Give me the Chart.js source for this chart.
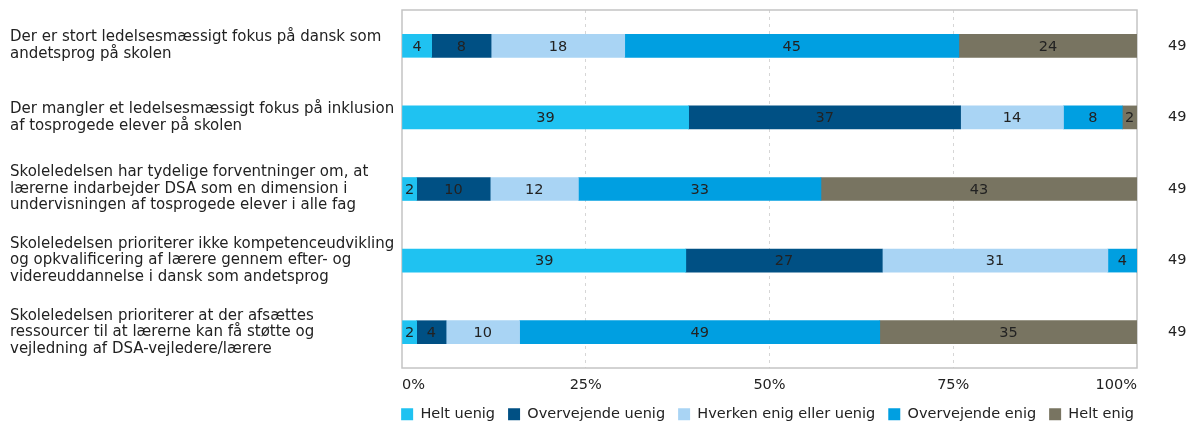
<!DOCTYPE html>
<html>
<head>
<meta charset="utf-8">
<script src="https://cdn.jsdelivr.net/npm/chart.js@4/dist/chart.umd.min.js"></script>
<style>
  html, body { margin: 0; padding: 0; background: #ffffff; }
  #wrap { width: 1190px; height: 421px; position: relative; }
</style>
</head>
<body>
<div id="wrap"><canvas id="c" width="1190" height="421"></canvas></div>
<script>
const categories = [
  ["Der er stort ledelsesmæssigt fokus på dansk som", "andetsprog på skolen"],
  ["Der mangler et ledelsesmæssigt fokus på inklusion", "af tosprogede elever på skolen"],
  ["Skoleledelsen har tydelige forventninger om, at", "lærerne indarbejder DSA som en dimension i", "undervisningen af tosprogede elever i alle fag"],
  ["Skoleledelsen prioriterer ikke kompetenceudvikling", "og opkvalificering af lærere gennem efter- og", "videreuddannelse i dansk som andetsprog"],
  ["Skoleledelsen prioriterer at der afsættes", "ressourcer til at lærerne kan få støtte og", "vejledning af DSA-vejledere/lærere"]
];
const seriesNames = ["Helt uenig", "Overvejende uenig", "Hverken enig eller uenig", "Overvejende enig", "Helt enig"];
const heltUenig        = [4, 39, 2, 39, 2];
const overvejendeUenig = [8, 37, 10, 27, 4];
const hverken          = [18, 14, 12, 31, 10];
const overvejendeEnig  = [45, 8, 33, 4, 49];
const heltEnig         = [24, 2, 43, 0, 35];
const nValues = ["49", "49", "49", "49", "49"];
const xTicks = [0, 25, 50, 75, 100];

const colors = ["#1fc2f1", "#005084", "#a9d4f4", "#009fe1", "#787461"];
const seriesValues = [heltUenig, overvejendeUenig, hverken, overvejendeEnig, heltEnig];

// row totals (rounded percentages do not always sum to 100) -> bars normalised to 100%
const rowTotals = categories.map((_, i) => seriesValues.reduce((s, arr) => s + arr[i], 0));

const FONT = "'DejaVu Sans', Verdana, sans-serif";
const TEXT = "#222222";

const datasets = seriesValues.map((vals, k) => ({
  label: seriesNames[k],
  data: vals.map((v, i) => v / rowTotals[i] * 100),
  raw: vals,
  backgroundColor: colors[k],
  borderWidth: 0,
  barThickness: 23,
  yAxisID: 'y',
  xAxisID: 'x'
}));

const labelPlugin = {
  id: 'segLabels',
  afterDatasetsDraw(chart) {
    const ctx = chart.ctx;
    ctx.save();
    ctx.font = "14.5px " + FONT;
    ctx.fillStyle = TEXT;
    ctx.textAlign = 'center';
    ctx.textBaseline = 'middle';
    chart.data.datasets.forEach((ds, di) => {
      const meta = chart.getDatasetMeta(di);
      meta.data.forEach((bar, i) => {
        const v = ds.raw[i];
        if (!v) return;
        const cx = (bar.x + bar.base) / 2;
        ctx.fillText(String(v), cx, bar.y + 1);
      });
    });
    ctx.restore();
  }
};

const framePlugin = {
  id: 'frame',
  afterLayout(chart) {
    if (chart.legend) {
      chart.legend.left = chart.chartArea.left - 44;
      chart.legend.right = chart.chartArea.right + 40;
    }
  },
  beforeDatasetsDraw(chart) {
    const a = chart.chartArea;
    const ctx = chart.ctx;
    ctx.save();
    ctx.strokeStyle = "#c4c4c4";
    ctx.lineWidth = 1.5;
    ctx.strokeRect(a.left, a.top, a.right - a.left, a.bottom - a.top);
    ctx.restore();
  }
};

function noVPad(scale) { scale.paddingTop = 0; scale.paddingBottom = 0; }

new Chart(document.getElementById('c'), {
  type: 'bar',
  data: { labels: categories, datasets },
  plugins: [labelPlugin, framePlugin],
  options: {
    indexAxis: 'y',
    responsive: false,
    animation: false,
    layout: { padding: { left: 10, top: 10, right: 0, bottom: 0 } },
    scales: {
      x: {
        stacked: true,
        min: 0,
        max: 100,
        afterBuildTicks(scale) { scale.ticks = xTicks.map(v => ({ value: v })); },
        afterFit(scale) { scale.height = 26; scale.paddingLeft = 0; scale.paddingRight = 0; },
        ticks: {
          callback: v => v + '%',
          align: 'inner',
          padding: 9,
          color: TEXT,
          font: { family: FONT, size: 14.5 }
        },
        grid: {
          drawTicks: false,
          color: ctx => (ctx.tick && (ctx.tick.value === 0 || ctx.tick.value === 100)) ? 'rgba(0,0,0,0)' : '#d6d6d6',
          lineWidth: 1
        },
        border: { display: false, dash: [3, 4] }
      },
      y: {
        stacked: true,
        position: 'left',
        offset: true,
        afterFit(scale) { scale.width = 392; noVPad(scale); },
        ticks: {
          crossAlign: 'far',
          color: TEXT,
          font: { family: FONT, size: 15, lineHeight: 1.1 }
        },
        grid: { display: false, drawTicks: false },
        border: { display: false }
      },
      yRight: {
        type: 'category',
        position: 'right',
        labels: nValues,
        offset: true,
        afterFit(scale) { scale.width = 53; noVPad(scale); },
        ticks: {
          crossAlign: 'near',
          padding: 31,
          color: TEXT,
          font: { family: FONT, size: 14.5 }
        },
        grid: { display: false, drawTicks: false },
        border: { display: false }
      }
    },
    plugins: {
      tooltip: { enabled: false },
      legend: {
        position: 'bottom',
        maxHeight: 27,
        labels: {
          boxWidth: 12,
          boxHeight: 12,
          padding: 13,
          color: TEXT,
          font: { family: FONT, size: 14.5 }
        }
      }
    }
  }
});
</script>
</body>
</html>
